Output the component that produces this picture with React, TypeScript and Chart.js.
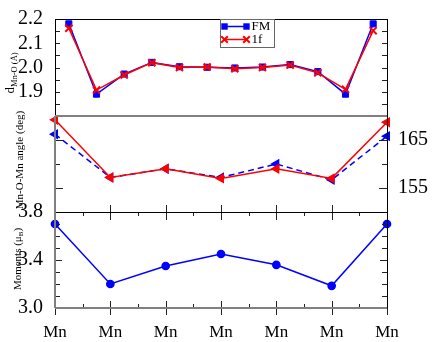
import React, { useEffect, useRef } from 'react';
import { Chart, registerables } from 'chart.js';
Chart.register(...registerables);

// ---- data ----
const siteLabels = ['Mn', 'Mn', 'Mn', 'Mn', 'Mn', 'Mn', 'Mn'];
const seriesNames = ['FM', '1f'];
// Mn-O bond lengths (Å), two bonds between consecutive Mn sites
const bondFM = [2.18, 1.89, 1.973, 2.021, 2.003, 2.001, 1.998, 2.002, 2.012, 1.983, 1.89, 2.18];
const bond1f = [2.162, 1.907, 1.969, 2.02, 2.0, 2.002, 1.995, 2.0, 2.01, 1.978, 1.91, 2.152];
// Mn-O-Mn angles (deg) at Mn sites
const angleFM = [166.2, 157.2, 159.0, 157.2, 160.0, 156.7, 165.8];
const angle1f = [169.2, 157.2, 159.0, 157.0, 159.0, 157.0, 168.7];
// Magnetic moments (μB)
const momentFM = [3.7, 3.2, 3.35, 3.45, 3.36, 3.185, 3.7];

const SERIF = "'Liberation Serif','Times New Roman',serif";
const BLUE = '#0000ff';
const RED = '#ff0000';

type Part = { text: string; size: number; dy?: number };

function drawVText(ctx: CanvasRenderingContext2D, x: number, cy: number, parts: Part[]) {
  ctx.save();
  let total = 0;
  for (const p of parts) {
    ctx.font = `${p.size}px ${SERIF}`;
    total += ctx.measureText(p.text).width;
  }
  ctx.translate(x, cy + total / 2);
  ctx.rotate(-Math.PI / 2);
  ctx.textAlign = 'left';
  ctx.textBaseline = 'alphabetic';
  ctx.fillStyle = '#000';
  let cx = 0;
  for (const p of parts) {
    ctx.font = `${p.size}px ${SERIF}`;
    ctx.fillText(p.text, cx, p.dy || 0);
    cx += ctx.measureText(p.text).width;
  }
  ctx.restore();
}

type FrameSeg = { side: 'top' | 'bottom' | 'left' | 'right'; color: string; width: number };
type YTick = { scale: string; side: 'left' | 'right'; len: (v: number) => number };

function makeDecor(cfg: {
  frame: FrameSeg[];
  yTicks: YTick[];
  xTicks?: boolean;
  title?: { x: number; cy: number; parts: Part[] };
  legend?: boolean;
}) {
  return {
    id: 'decor',
    afterDraw(chart: any) {
      const ctx: CanvasRenderingContext2D = chart.ctx;
      const a = chart.chartArea;
      ctx.save();
      // ticks
      ctx.strokeStyle = '#222';
      ctx.lineWidth = 1;
      for (const t of cfg.yTicks) {
        const s = chart.scales[t.scale];
        for (const tk of s.ticks) {
          const y = Math.round(s.getPixelForValue(tk.value)) + 0.5;
          if (y <= a.top + 1 || y >= a.bottom - 1) continue;
          const len = t.len(tk.value);
          ctx.beginPath();
          if (t.side === 'left') {
            ctx.moveTo(a.left, y);
            ctx.lineTo(a.left + len, y);
          } else {
            ctx.moveTo(a.right, y);
            ctx.lineTo(a.right - len, y);
          }
          ctx.stroke();
        }
      }
      if (cfg.xTicks) {
        const s = chart.scales.x;
        for (const tk of s.ticks) {
          const x = Math.round(s.getPixelForValue(tk.value)) + 0.5;
          const major = Math.abs(tk.value - Math.round(tk.value)) < 1e-6;
          const edge = x <= a.left + 1 || x >= a.right - 1;
          ctx.beginPath();
          if (major) {
            if (!edge) {
              ctx.moveTo(x, a.top - 7);
              ctx.lineTo(x, a.top + 8);
              ctx.moveTo(x, a.bottom - 7);
            } else {
              ctx.moveTo(x, a.bottom);
            }
            ctx.lineTo(x, a.bottom + 7);
          } else {
            ctx.moveTo(x, a.top);
            ctx.lineTo(x, a.top + 4);
            ctx.moveTo(x, a.bottom);
            ctx.lineTo(x, a.bottom - 4);
          }
          ctx.stroke();
        }
      }
      // frame
      for (const f of cfg.frame) {
        ctx.strokeStyle = f.color;
        ctx.lineWidth = f.width;
        const off = f.width % 2 === 1 ? 0.5 : 0;
        ctx.beginPath();
        if (f.side === 'top') {
          ctx.moveTo(a.left, a.top + off);
          ctx.lineTo(a.right, a.top + off);
        } else if (f.side === 'bottom') {
          ctx.moveTo(a.left, a.bottom + off);
          ctx.lineTo(a.right, a.bottom + off);
        } else if (f.side === 'left') {
          ctx.moveTo(a.left + off, a.top);
          ctx.lineTo(a.left + off, a.bottom);
        } else {
          ctx.moveTo(a.right + off, a.top);
          ctx.lineTo(a.right + off, a.bottom);
        }
        ctx.stroke();
      }
      if (cfg.title) drawVText(ctx, cfg.title.x, cfg.title.cy, cfg.title.parts);
      if (cfg.legend) {
        const bx = a.left + 165.5;
        const by = a.top + 0.5;
        ctx.strokeStyle = '#666';
        ctx.lineWidth = 1;
        ctx.strokeRect(bx, by, 54, 28);
        const ds = chart.data.datasets;
        const rows = [by + 7, by + 20];
        ds.forEach((d: any, i: number) => {
          const y = rows[i];
          const x0 = bx + 4;
          const x1 = bx + 26;
          ctx.strokeStyle = d.borderColor;
          ctx.fillStyle = d.borderColor;
          ctx.lineWidth = 1.5;
          ctx.beginPath();
          ctx.moveTo(x0, y);
          ctx.lineTo(x1, y);
          ctx.stroke();
          for (const px of [x0, x1]) {
            if (d.pointStyle === 'rect') {
              ctx.fillRect(px - 3.2, y - 3.2, 6.4, 6.4);
            } else {
              ctx.lineWidth = 2;
              ctx.beginPath();
              ctx.moveTo(px - 3.3, y - 3.3);
              ctx.lineTo(px + 3.3, y + 3.3);
              ctx.moveTo(px - 3.3, y + 3.3);
              ctx.lineTo(px + 3.3, y - 3.3);
              ctx.stroke();
            }
          }
          ctx.fillStyle = '#000';
          ctx.font = `13px ${SERIF}`;
          ctx.textAlign = 'left';
          ctx.textBaseline = 'middle';
          ctx.fillText(d.label, bx + 31, y + 0.5);
        });
      }
      ctx.restore();
    },
  };
}

const tickFont = { family: SERIF, size: 20 };
const baseOpts = {
  responsive: false,
  animation: false as const,
  events: [] as any[],
  plugins: { legend: { display: false }, tooltip: { enabled: false } },
};
const hiddenX = { type: 'linear' as const, display: false, min: 0, max: siteLabels.length - 1 };

function cfgTop(): any {
  return {
    type: 'line',
    data: {
      datasets: [
        {
          label: seriesNames[0],
          data: bondFM.map((y, i) => ({ x: (2 * i + 1) / 4, y })),
          borderColor: BLUE,
          backgroundColor: BLUE,
          pointStyle: 'rect',
          pointRadius: 4.3,
          pointBorderWidth: 1,
          borderWidth: 1.5,
          order: 1,
          clip: false,
        },
        {
          label: seriesNames[1],
          data: bond1f.map((y, i) => ({ x: (2 * i + 1) / 4, y })),
          borderColor: RED,
          backgroundColor: RED,
          pointStyle: 'crossRot',
          pointRadius: 5,
          pointBorderWidth: 2,
          borderWidth: 1.5,
          order: 0,
          clip: false,
        },
      ],
    },
    options: {
      ...baseOpts,
      layout: { padding: { top: 19, bottom: 226, left: 0, right: 49 } },
      scales: {
        x: hiddenX,
        y: {
          type: 'linear',
          position: 'left',
          min: 1.8,
          max: 2.2,
          afterFit: (s: any) => { s.width = 55; },
          grid: { display: false },
          border: { display: false },
          ticks: {
            stepSize: 0.05,
            font: tickFont,
            color: '#000',
            padding: 4,
            autoSkip: false,
            callback: (v: number) => {
              const r = Math.round(v * 100);
              return r % 10 === 0 && r > 180 ? (r / 100).toFixed(1) : '';
            },
          },
        },
      },
    },
    plugins: [
      makeDecor({
        frame: [
          { side: 'top', color: '#000', width: 1 },
          { side: 'left', color: '#000', width: 1 },
          { side: 'right', color: '#000', width: 1 },
          { side: 'bottom', color: '#808080', width: 2 },
        ],
        yTicks: [
          { scale: 'y', side: 'left', len: () => 5 },
          { scale: 'y', side: 'right', len: () => 5 },
        ],
        title: { x: 14, cy: 73, parts: [{ text: 'd', size: 13 }, { text: 'Mn-O (Å)', size: 8.5, dy: 2.5 }] },
        legend: true,
      }),
    ],
  };
}

function cfgMid(): any {
  return {
    type: 'line',
    data: {
      datasets: [
        {
          label: seriesNames[0],
          data: angleFM.map((y, i) => ({ x: i, y })),
          borderColor: BLUE,
          backgroundColor: BLUE,
          borderDash: [6, 4],
          pointStyle: 'triangle',
          pointRotation: -90,
          pointRadius: 4.5,
          borderWidth: 1.5,
          order: 1,
          clip: false,
        },
        {
          label: seriesNames[1],
          data: angle1f.map((y, i) => ({ x: i, y })),
          borderColor: RED,
          backgroundColor: RED,
          pointStyle: 'triangle',
          pointRotation: -90,
          pointRadius: 4.5,
          borderWidth: 1.5,
          order: 0,
          clip: false,
        },
      ],
    },
    options: {
      ...baseOpts,
      layout: { padding: { top: 116, bottom: 130, left: 0, right: 0 } },
      scales: {
        x: hiddenX,
        y: {
          type: 'linear',
          position: 'left',
          min: 150,
          max: 170,
          afterFit: (s: any) => { s.width = 55; },
          grid: { display: false },
          border: { display: false },
          ticks: { display: false, stepSize: 5 },
        },
        yR: {
          type: 'linear',
          position: 'right',
          min: 150,
          max: 170,
          afterFit: (s: any) => { s.width = 49; },
          grid: { display: false },
          border: { display: false },
          ticks: {
            stepSize: 5,
            font: tickFont,
            color: '#000',
            padding: 3,
            autoSkip: false,
            callback: (v: number) => (Math.round(v) % 10 === 5 ? String(Math.round(v)) : ''),
          },
        },
      },
    },
    plugins: [
      makeDecor({
        frame: [
          { side: 'left', color: '#808080', width: 2 },
          { side: 'right', color: '#000', width: 1 },
        ],
        yTicks: [
          { scale: 'yR', side: 'left', len: (v) => (Math.round(v) % 10 === 5 ? 8 : 5) },
          { scale: 'yR', side: 'right', len: (v) => (Math.round(v) % 10 === 5 ? 8 : 5) },
        ],
        title: { x: 22.5, cy: 160, parts: [{ text: 'Mn-O-Mn angle (deg)', size: 11 }] },
      }),
    ],
  };
}

function cfgBot(): any {
  return {
    type: 'line',
    data: {
      datasets: [
        {
          label: seriesNames[0],
          data: momentFM.map((y, i) => ({ x: i, y })),
          borderColor: BLUE,
          backgroundColor: BLUE,
          pointStyle: 'circle',
          pointRadius: 3.6,
          borderWidth: 1.5,
          clip: false,
        },
      ],
    },
    options: {
      ...baseOpts,
      layout: { padding: { top: 212, bottom: 0, left: 0, right: 49 } },
      scales: {
        x: {
          type: 'linear',
          position: 'bottom',
          min: 0,
          max: siteLabels.length - 1,
          afterFit: (s: any) => { s.height = 34; },
          grid: { display: false },
          border: { display: false },
          ticks: {
            stepSize: 0.5,
            autoSkip: false,
            maxRotation: 0,
            padding: 6,
            font: { family: SERIF, size: 17 },
            color: '#000',
            callback: (v: number) => (Math.abs(v - Math.round(v)) < 1e-6 ? siteLabels[Math.round(v)] : ''),
          },
        },
        y: {
          type: 'linear',
          position: 'left',
          min: 3.0,
          max: 3.8,
          afterFit: (s: any) => { s.width = 55; },
          grid: { display: false },
          border: { display: false },
          ticks: {
            stepSize: 0.1,
            font: tickFont,
            color: '#000',
            padding: 4,
            autoSkip: false,
            callback: (v: number) => (Math.round(v * 10) % 4 === 2 ? v.toFixed(1) : ''),
          },
        },
      },
    },
    plugins: [
      makeDecor({
        frame: [
          { side: 'top', color: '#000', width: 1 },
          { side: 'left', color: '#808080', width: 2 },
          { side: 'right', color: '#000', width: 1 },
          { side: 'bottom', color: '#808080', width: 2 },
        ],
        yTicks: [
          { scale: 'y', side: 'left', len: (v) => (Math.round(v * 10) % 4 === 2 ? 7 : 5) },
          { scale: 'y', side: 'right', len: (v) => (Math.round(v * 10) % 4 === 2 ? 7 : 5) },
        ],
        xTicks: true,
        title: {
          x: 21,
          cy: 259,
          parts: [
            { text: 'Moments (μ', size: 11 },
            { text: 'B', size: 7, dy: 2 },
            { text: ')', size: 11 },
          ],
        },
      }),
    ],
  };
}

export default function App() {
  const refA = useRef<HTMLCanvasElement>(null);
  const refB = useRef<HTMLCanvasElement>(null);
  const refC = useRef<HTMLCanvasElement>(null);
  useEffect(() => {
    const charts = [
      new Chart(refA.current as HTMLCanvasElement, cfgTop()),
      new Chart(refB.current as HTMLCanvasElement, cfgMid()),
      new Chart(refC.current as HTMLCanvasElement, cfgBot()),
    ];
    return () => charts.forEach((c) => c.destroy());
  }, []);
  const st: React.CSSProperties = { position: 'absolute', left: 0, top: 0, width: 436, height: 342 };
  return (
    <div style={{ position: 'absolute', left: 0, top: 0, width: 436, height: 342, background: '#fff' }}>
      <canvas ref={refC} width={436} height={342} style={st} />
      <canvas ref={refB} width={436} height={342} style={st} />
      <canvas ref={refA} width={436} height={342} style={st} />
    </div>
  );
}
